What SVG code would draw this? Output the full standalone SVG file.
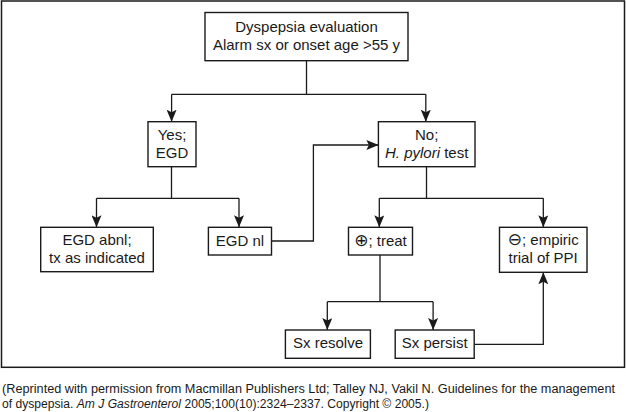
<svg xmlns="http://www.w3.org/2000/svg" width="626" height="412" viewBox="0 0 626 412">
<style>
.box{fill:#fff;stroke:#1a1a1a;stroke-width:1.4}
.t{font-family:"Liberation Sans",Arial,sans-serif;font-size:15px;fill:#1a1a1a;text-anchor:middle}
.sym{font-family:"DejaVu Sans",sans-serif;font-size:17px}
.cap{font-family:"Liberation Sans",Arial,sans-serif;font-size:12px;fill:#1a1a1a}
.ln{fill:none;stroke:#1a1a1a;stroke-width:1.3}
.ar{fill:none;stroke:#1a1a1a;stroke-width:1.3;marker-end:url(#ah)}
</style>
<defs>
<marker id="ah" viewBox="0 0 12 10" refX="12" refY="5" markerWidth="12" markerHeight="10" markerUnits="userSpaceOnUse" orient="auto">
<path d="M0,0 L12,5 L0,10 L2.5,5 z" fill="#1a1a1a"/>
</marker>
</defs>
<rect x="1.5" y="1" width="623" height="366.3" fill="#fff" stroke="#1a1a1a" stroke-width="1.5"/>
<g id="connectors">
<path class="ln" d="M306.5,60.7 V94.3 M171.6,94.3 H425.8"/>
<path class="ar" d="M171.6,94.3 V121.7"/>
<path class="ar" d="M425.8,94.3 V121.7"/>
<path class="ln" d="M171.5,166.7 V198.3 M96.5,198.3 H239"/>
<path class="ar" d="M96.5,198.3 V227.3"/>
<path class="ar" d="M239,198.3 V227.3"/>
<path class="ar" d="M271.5,241 H313.4 V145 H378.4"/>
<path class="ln" d="M426.5,166.7 V198.3 M379.3,198.3 H543.3"/>
<path class="ar" d="M379.3,198.3 V227.3"/>
<path class="ar" d="M543.3,198.3 V227.3"/>
<path class="ln" d="M380,255 V301.7 M327.3,301.7 H433.1"/>
<path class="ar" d="M327.3,301.7 V330"/>
<path class="ar" d="M433.1,301.7 V330"/>
<path class="ar" d="M474.3,344.3 H543.3 V272.3"/>
</g>
<g id="start">
<rect class="box" x="205" y="12.5" width="203" height="48.2"/>
<text class="t" x="306.5" y="32">Dyspepsia evaluation</text>
<text class="t" x="306.5" y="50.3">Alarm sx or onset age &gt;55 y</text>
</g>
<g id="yes">
<rect class="box" x="148" y="121.7" width="48" height="45"/>
<text class="t" x="172" y="139.5">Yes;</text>
<text class="t" x="172" y="157.5">EGD</text>
</g>
<g id="no">
<rect class="box" x="378.4" y="121.7" width="96.6" height="45"/>
<text class="t" x="426.7" y="139.5">No;</text>
<text class="t" x="426.7" y="157.5"><tspan font-style="italic">H. pylori</tspan> test</text>
</g>
<g id="egd-abnl">
<rect class="box" x="40.7" y="227.3" width="112.6" height="44.4"/>
<text class="t" x="97" y="245">EGD abnl;</text>
<text class="t" x="97" y="262.7">tx as indicated</text>
</g>
<g id="egd-nl">
<rect class="box" x="208.4" y="227.3" width="63.1" height="27.7"/>
<text class="t" x="240" y="245.5">EGD nl</text>
</g>
<g id="treat">
<rect class="box" x="348.5" y="227.3" width="64" height="27.7"/>
<text class="t" x="380.5" y="245.5"><tspan class="sym">⊕</tspan>; treat</text>
</g>
<g id="empiric">
<rect class="box" x="499.5" y="227.3" width="87.5" height="45"/>
<text class="t" x="543.2" y="245"><tspan class="sym">⊖</tspan>; empiric</text>
<text class="t" x="543.2" y="262.7">trial of PPI</text>
</g>
<g id="sx-resolve">
<rect class="box" x="285.4" y="330" width="85" height="28.3"/>
<text class="t" x="328" y="347.5">Sx resolve</text>
</g>
<g id="sx-persist">
<rect class="box" x="395.2" y="330" width="79" height="28.3"/>
<text class="t" x="434.7" y="347.5">Sx persist</text>
</g>
<g id="caption">
<text class="cap" x="2" y="392.5" textLength="613" lengthAdjust="spacingAndGlyphs">(Reprinted with permission from Macmillan Publishers Ltd; Talley NJ, Vakil N. Guidelines for the management</text>
<text class="cap" x="2" y="407.7" textLength="427" lengthAdjust="spacingAndGlyphs">of dyspepsia. <tspan font-style="italic">Am J Gastroenterol</tspan> 2005;100(10):2324–2337. Copyright © 2005.)</text>
</g>
</svg>
